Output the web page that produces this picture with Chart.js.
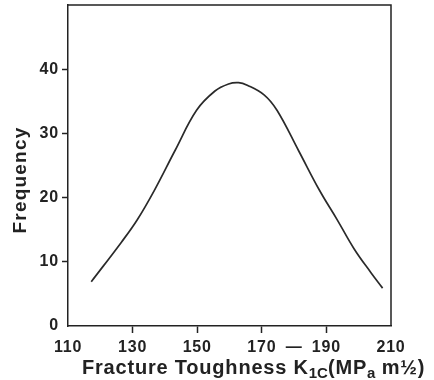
<!DOCTYPE html>
<html lang="en">
<head>
    <meta charset="UTF-8">
    <title>Fracture Toughness Distribution</title>
    <script src="https://cdn.jsdelivr.net/npm/chart.js"></script>
    <style>
        body { margin: 0; background: #fff; }
        .wrap { position: relative; width: 434px; height: 380px; }
        .xtitle {
            position: absolute; left: 82px; top: 357px;
            font: bold 20px "Liberation Sans", Arial, sans-serif; color: #222;
            letter-spacing: 0.8px; white-space: nowrap; line-height: 1;
        }
        .xtitle sub { font-size: 15px; vertical-align: -4px; line-height: 0; letter-spacing: 0; }
        .ytitle {
            position: absolute; left: -40px; top: 169px; width: 120px; height: 22px;
            line-height: 22px; text-align: center;
            font: bold 19px "Liberation Sans", Arial, sans-serif; color: #222;
            letter-spacing: 1.2px; white-space: nowrap;
            transform: rotate(-90deg);
        }
    </style>
</head>
<body>
    <div class="wrap">
        <canvas id="toughChart" width="434" height="380"></canvas>
        <div class="ytitle">Frequency</div>
        <div class="xtitle">Fracture Toughness K<sub>1C</sub>(MP<sub>a</sub> m½)</div>
    </div>

    <script>
        // values
        const toughness = [117.2, 126.6, 131.5, 136.7, 143.1, 149.8, 155.5, 159.7, 162.8,
                           165.5, 170.7, 174.7, 181.4, 187.9, 193.4, 198.6, 203.8, 207.4];
        const frequency = [6.9, 13.1, 16.6, 21.1, 27.3, 33.6, 36.6, 37.7, 37.9,
                           37.5, 36.0, 33.6, 27.3, 21.1, 16.5, 12.0, 8.3, 5.9];
        const xTickLabels = { 110: '110', 130: '130', 150: '150', 170: '170', 180: '\u2014', 190: '190', 210: '210' };
        const xTickMarks = [130, 150, 170, 190];
        const yTickLabels = [0, 10, 20, 30, 40];

        const ink = '#222';

        const framePlugin = {
            id: 'frame',
            beforeDraw(chart) {
                chart.ctx.letterSpacing = '0.8px';
            },
            afterDraw(chart) {
                const a = chart.chartArea, c = chart.ctx;
                c.save();
                c.strokeStyle = ink;
                c.lineWidth = 1.5;
                c.beginPath();
                c.moveTo(a.left, a.top);
                c.lineTo(a.right, a.top);
                c.lineTo(a.right, a.bottom);
                c.stroke();
                c.restore();
            }
        };

        new Chart(document.getElementById('toughChart'), {
            type: 'line',
            data: {
                datasets: [{
                    data: toughness.map((k, i) => ({ x: k, y: frequency[i] })),
                    borderColor: '#2a2a2a',
                    borderWidth: 1.7,
                    pointRadius: 0,
                    tension: 0.4,
                    fill: false
                }]
            },
            options: {
                responsive: false,
                animation: false,
                layout: { padding: { top: 5, right: 43, bottom: 25, left: 0 } },
                plugins: { legend: { display: false }, tooltip: { enabled: false } },
                scales: {
                    x: {
                        type: 'linear',
                        min: 110, max: 210,
                        afterFit(scale) { scale.height = 29; },
                        border: { color: ink, width: 1.5 },
                        grid: {
                            drawOnChartArea: false,
                            tickLength: 7,
                            tickWidth: 1.5,
                            tickColor: ctx => xTickMarks.includes(ctx.tick && ctx.tick.value) ? ink : 'rgba(0,0,0,0)'
                        },
                        ticks: {
                            stepSize: 10,
                            autoSkip: false,
                            maxRotation: 0,
                            padding: 5,
                            color: ink,
                            font: { family: '"Liberation Sans", Arial, sans-serif', size: 16, weight: 'bold' },
                            callback: v => xTickLabels[v] || ''
                        }
                    },
                    y: {
                        min: 0, max: 50,
                        afterFit(scale) {
                            scale.width = 68;
                            scale.paddingTop = 0;
                            scale.paddingBottom = 0;
                        },
                        afterBuildTicks(scale) { scale.ticks = scale.ticks.filter(t => yTickLabels.includes(t.value)); },
                        border: { color: ink, width: 1.5 },
                        grid: {
                            drawOnChartArea: false,
                            tickLength: 6,
                            tickWidth: 1.5,
                            tickColor: ctx => (ctx.tick && ctx.tick.value > 0) ? ink : 'rgba(0,0,0,0)'
                        },
                        ticks: {
                            stepSize: 10,
                            padding: 3,
                            color: ink,
                            font: { family: '"Liberation Sans", Arial, sans-serif', size: 16, weight: 'bold' }
                        }
                    }
                }
            },
            plugins: [framePlugin]
        });
    </script>
</body>
</html>
